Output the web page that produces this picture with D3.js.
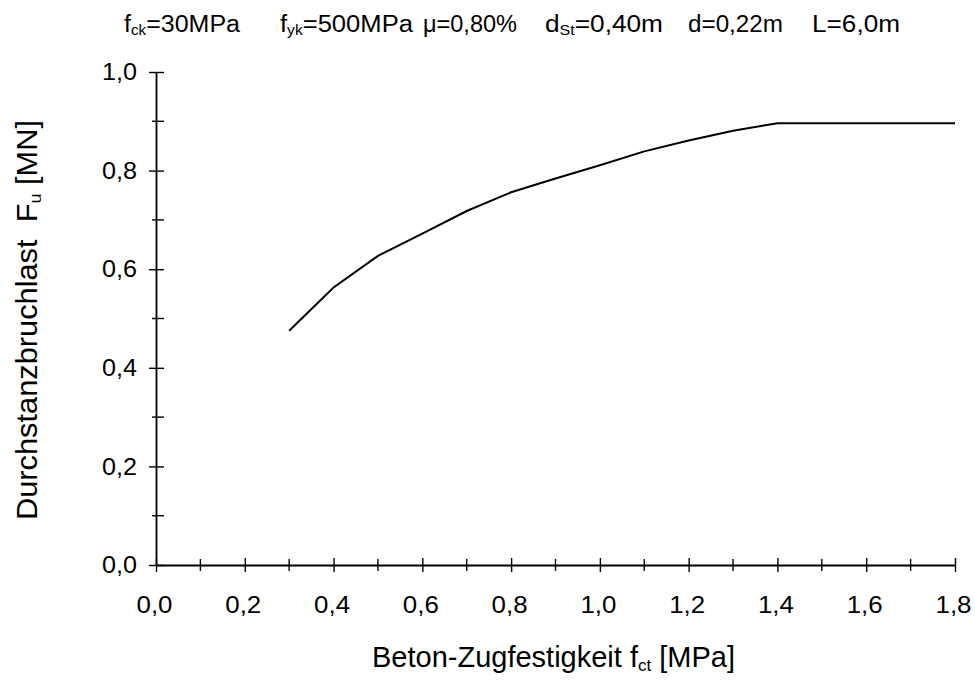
<!DOCTYPE html>
<html>
<head>
<meta charset="utf-8">
<script src="https://cdn.jsdelivr.net/npm/d3@7"></script>
<style>
  body { margin: 0; background: #fff; }
  svg { font-family: "Liberation Sans", Arial, sans-serif; }
</style>
</head>
<body>
<div id="chart"></div>
<script>
// data
const fct = [0.3, 0.4, 0.5, 0.6, 0.7, 0.8, 0.9, 1.0, 1.1, 1.2, 1.3, 1.4, 1.8];
const load = [0.475, 0.563, 0.627, 0.672, 0.718, 0.756, 0.784, 0.811, 0.839, 0.861, 0.881, 0.896, 0.896];
const xTicks = [0, 0.2, 0.4, 0.6, 0.8, 1.0, 1.2, 1.4, 1.6, 1.8];
const xMinor = [0.1, 0.3, 0.5, 0.7, 0.9, 1.1, 1.3, 1.5, 1.7];
const yTicks = [0, 0.2, 0.4, 0.6, 0.8, 1.0];
const yMinor = [0.1, 0.3, 0.5, 0.7, 0.9];
// header pieces: [main, subscript, rest]
const header = [
  ["f", "ck", "=30MPa"],
  ["f", "yk", "=500MPa"],
  ["\u03bc=0,80%", "", ""],
  ["d", "St", "=0,40m"],
  ["d=0,22m", "", ""],
  ["L=6,0m", "", ""]
];

const W = 975, H = 692;
const margin = { top: 72, right: 20, bottom: 127, left: 156 };

const svg = d3.select("#chart").append("svg")
  .attr("width", W)
  .attr("height", H);

const x = d3.scaleLinear().domain([0, 1.8]).range([margin.left, 955]);
const y = d3.scaleLinear().domain([0, 1.0]).range([H - margin.bottom, margin.top]);

const fmt = d => d.toFixed(1).replace(".", ",");

// x axis
const gx = svg.append("g")
  .attr("transform", "translate(0," + y(0) + ")")
  .call(d3.axisBottom(x).tickValues(xTicks).tickFormat(fmt).tickSizeInner(7).tickSizeOuter(0).tickPadding(24))
  .call(g => g.select(".domain").attr("stroke-width", 1.8))
  .call(g => g.selectAll(".tick line").attr("y1", -7).attr("stroke-width", 1.4))
  .call(g => g.selectAll(".tick text").attr("font-size", 24).attr("fill", "#000")
    .attr("dx", -2).attr("textLength", 36).attr("lengthAdjust", "spacingAndGlyphs"));
gx.selectAll(".minor").data(xMinor).join("line")
  .attr("class", "minor")
  .attr("x1", d => x(d)).attr("x2", d => x(d))
  .attr("y1", -6).attr("y2", 6)
  .attr("stroke", "#000").attr("stroke-width", 1.4);

// y axis
const gy = svg.append("g")
  .attr("transform", "translate(" + x(0) + ",0)")
  .call(d3.axisLeft(y).tickValues(yTicks).tickFormat(fmt).tickSizeInner(7).tickSizeOuter(0).tickPadding(12))
  .call(g => g.select(".domain").attr("stroke-width", 1.8))
  .call(g => g.selectAll(".tick line").attr("x1", 8).attr("stroke-width", 1.4))
  .call(g => g.selectAll(".tick text").attr("font-size", 24).attr("fill", "#000")
    .attr("textLength", 35).attr("lengthAdjust", "spacingAndGlyphs"));
gy.selectAll(".minor").data(yMinor).join("line")
  .attr("class", "minor")
  .attr("y1", d => y(d)).attr("y2", d => y(d))
  .attr("x1", -4).attr("x2", 8)
  .attr("stroke", "#000").attr("stroke-width", 1.4);

// curve
const pts = fct.map((v, i) => [v, load[i]]);
svg.append("path")
  .datum(pts)
  .attr("fill", "none")
  .attr("stroke", "#000")
  .attr("stroke-width", 2)
  .attr("d", d3.line().x(d => x(d[0])).y(d => y(d[1])));

// header line, each piece placed on its own
const hx = [124, 280, 423, 545, 688, 812];
const hw = [116, 133, 94, 118, 95, 88];
header.forEach(([a, s, b], i) => {
  const t = svg.append("text")
    .attr("x", hx[i]).attr("y", 32)
    .attr("font-size", 23)
    .attr("fill", "#000")
    .attr("textLength", hw[i])
    .attr("lengthAdjust", "spacingAndGlyphs");
  t.append("tspan").text(a);
  if (s) {
    t.append("tspan").text(s).attr("font-size", 14).attr("dy", 3);
    t.append("tspan").text(b).attr("dy", -3);
  }
});

// x label
const xl = svg.append("text")
  .attr("x", 372).attr("y", 667)
  .attr("font-size", 29)
  .attr("fill", "#000")
  .attr("textLength", 363)
  .attr("lengthAdjust", "spacingAndGlyphs");
xl.append("tspan").text("Beton-Zugfestigkeit f");
xl.append("tspan").text("ct").attr("font-size", 17).attr("dy", 4);
xl.append("tspan").text(" [MPa]").attr("dy", -4);

// y label
const yl = svg.append("text")
  .attr("transform", "translate(37,520) rotate(-90)")
  .attr("font-size", 29)
  .attr("fill", "#000")
  .attr("textLength", 400)
  .attr("lengthAdjust", "spacingAndGlyphs")
  .attr("xml:space", "preserve");
yl.append("tspan").text("Durchstanzbruchlast  F");
yl.append("tspan").text("u").attr("font-size", 17).attr("dy", 4);
yl.append("tspan").text(" [MN]").attr("dy", -4);
</script>
</body>
</html>
